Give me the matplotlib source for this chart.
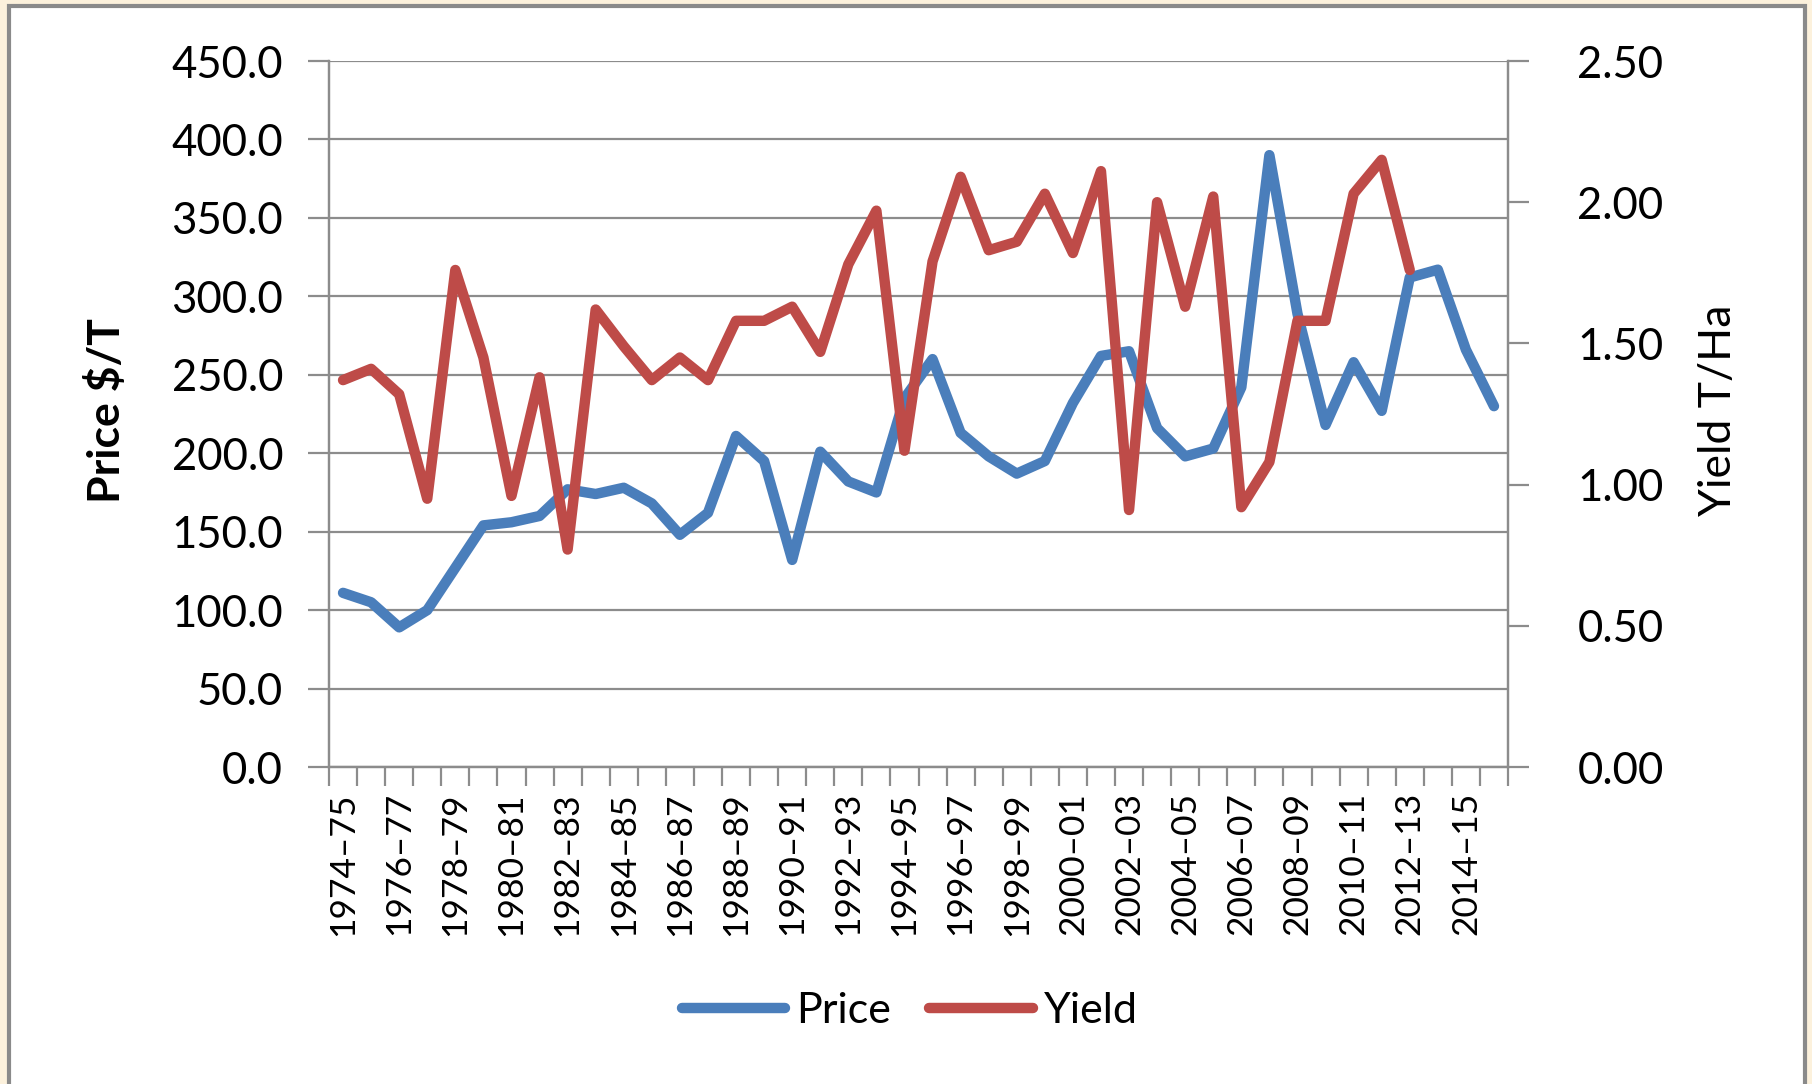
import matplotlib
matplotlib.use("Agg")
import matplotlib.pyplot as plt
import numpy as np
from matplotlib.patches import Rectangle
from matplotlib.lines import Line2D
from matplotlib.ticker import MultipleLocator, FormatStrFormatter

# Seasons (financial years)
seasons = [
    "1974–75", "1975–76", "1976–77", "1977–78", "1978–79", "1979–80",
    "1980–81", "1981–82", "1982–83", "1983–84", "1984–85", "1985–86",
    "1986–87", "1987–88", "1988–89", "1989–90", "1990–91", "1991–92",
    "1992–93", "1993–94", "1994–95", "1995–96", "1996–97", "1997–98",
    "1998–99", "1999–00", "2000–01", "2001–02", "2002–03", "2003–04",
    "2004–05", "2005–06", "2006–07", "2007–08", "2008–09", "2009–10",
    "2010–11", "2011–12", "2012–13", "2013–14", "2014–15", "2015–16",
]

# Price in $/T
price = [
    111, 105, 89, 100, 127, 154, 156, 160, 177, 174, 178, 168,
    148, 162, 211, 195, 132, 201, 182, 175, 235, 260, 213, 198,
    187, 195, 232, 262, 265, 216, 198, 203, 242, 390, 289, 218,
    258, 227, 312, 317, 266, 230,
]

# Yield in T/Ha (no figures after 2012–13)
yield_t_ha = [
    1.37, 1.41, 1.32, 0.95, 1.76, 1.45, 0.96, 1.38, 0.77, 1.62, 1.49, 1.37,
    1.45, 1.37, 1.58, 1.58, 1.63, 1.47, 1.78, 1.97, 1.12, 1.79, 2.09, 1.83,
    1.86, 2.03, 1.82, 2.11, 0.91, 2.00, 1.63, 2.02, 0.92, 1.08, 1.58, 1.58,
    2.03, 2.15, 1.76, None, None, None,
]

BLUE = "#4A7EBB"
RED = "#BE4B48"
GREY = "#8C8C8C"
BEIGE = "#FCF1DC"

plt.rcParams["font.family"] = ["Lato", "DejaVu Sans"]

W, H = 1812, 1084
fig = plt.figure(figsize=(W / 100, H / 100), dpi=100, facecolor=BEIGE)

# White chart panel with a grey frame, kept behind everything else
fig.patches.append(Rectangle((9 / W, -0.05), 1796 / W, 1.05 - 6 / H,
                             transform=fig.transFigure, facecolor="white",
                             edgecolor="#8A8A8A", linewidth=3.0, zorder=-10))

ax = fig.add_axes([329 / W, 1 - 767 / H, 1179 / W, 706 / H])
ax.set_facecolor("none")

n = len(seasons)
x = np.arange(n)
yv = np.array([np.nan if v is None else v for v in yield_t_ha], dtype=float)

line_kw = dict(lw=7.5, solid_joinstyle="round", solid_capstyle="round")
ax.plot(x, price, color=BLUE, **line_kw)

ax2 = ax.twinx()
ax2.set_facecolor("none")
ax2.plot(x, yv, color=RED, **line_kw)

ax.set_xlim(-0.5, n - 0.5)
ax.set_ylim(0, 450)
ax2.set_ylim(0, 2.5)

ax.yaxis.set_major_locator(MultipleLocator(50))
ax.yaxis.set_major_formatter(FormatStrFormatter("%.1f"))
ax2.yaxis.set_major_locator(MultipleLocator(0.5))
ax2.yaxis.set_major_formatter(FormatStrFormatter("%.2f"))

ax.grid(axis="y", color=GREY, lw=1.6)
ax.set_axisbelow(True)

for a in (ax, ax2):
    for s in a.spines.values():
        s.set_color(GREY)
        s.set_linewidth(1.6)
ax.spines["top"].set_visible(False)
ax2.spines["top"].set_visible(False)

# Category axis: tick marks between categories, every second label shown
ax.set_xticks(np.arange(-0.5, n, 1.0))
ax.tick_params(axis="x", which="major", length=14, width=1.6, color=GREY,
               labelbottom=False)
ax.set_xticks(x[::2], minor=True)
ax.set_xticklabels(seasons[::2], minor=True, rotation=90, fontsize=25.5,
                   va="top", ha="center")
ax.tick_params(axis="x", which="minor", length=0, pad=18)

ax.tick_params(axis="y", length=15, width=1.6, color=GREY, labelsize=31.5,
               pad=18)
ax2.tick_params(axis="y", length=15, width=1.6, color=GREY, labelsize=31.5,
                pad=35)

ax.set_ylabel("Price $/T", fontsize=32, fontweight="bold")
ax.yaxis.set_label_coords(-0.1714, 0.505)
ax2.set_ylabel("Yield T/Ha", fontsize=32)
ax2.yaxis.set_label_coords(1.161, 0.505)

handles = [Line2D([], [], color=BLUE, **line_kw),
           Line2D([], [], color=RED, **line_kw)]
fig.legend(handles, ["Price", "Yield"], loc="center",
           bbox_to_anchor=(910 / W, 1 - 1011 / H), ncol=2, frameon=False,
           fontsize=31, handlelength=2.4, handletextpad=0.26,
           columnspacing=0.88)

fig.savefig("out.png", dpi=100, facecolor=BEIGE)
